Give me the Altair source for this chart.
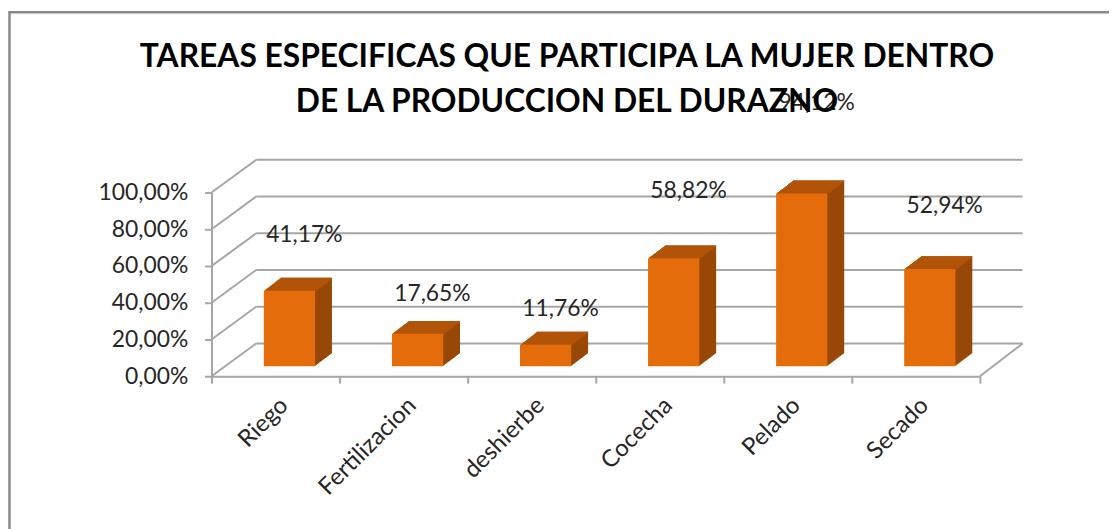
import altair as alt
import pandas as pd

# ---------------- data ----------------
categories = ["Riego", "Fertilizacion", "deshierbe", "Cocecha", "Pelado", "Secado"]
values = [41.17, 17.65, 11.76, 58.82, 94.12, 52.94]
y_ticks = [0, 20, 40, 60, 80, 100]
title_lines = ["TAREAS ESPECIFICAS QUE PARTICIPA LA MUJER DENTRO",
               "DE LA PRODUCCION DEL DURAZNO"]

# ---------------- style ----------------
W, H = 774, 185
DX, DY = 45, 33            # depth of the back wall (px)
BAR_DX, BAR_DY = 14, 10    # front face of the bars inside the depth
BAR_DEPTH = 17             # bar depth steps (px)
SLOPE = 0.76
FRONT = "#E46C0A"
TOP = "#B25408"
SIDE = "#984807"
GRID = "#A6A6A6"
TXT = "#262626"
FONT = "Lato"

bars = pd.DataFrame({"cat": categories, "val": values})
bars["lab"] = [f"{v:.2f}".replace(".", ",") + "%" for v in values]
ticks = pd.DataFrame({"val": y_ticks})

yscale = alt.Scale(domain=[0, 100], nice=False, zero=True)
xscale = alt.Scale(paddingInner=0, paddingOuter=0)

x_axis_def = alt.Axis(
    labelAngle=-45, labelAlign="right", labelBaseline="top",
    labelFont=FONT, labelFontSize=24, labelColor=TXT, labelPadding=10,
    domainColor=GRID, domainWidth=2, tickColor=GRID, tickWidth=2,
    tickSize=7, tickBand="extent", labelOverlap=False, grid=False,
)
y_axis_def = alt.Axis(
    values=y_ticks, grid=False,
    labelExpr="replace(format(datum.value, '.2f'), '.', ',') + '%'",
    labelFont=FONT, labelFontSize=23, labelColor=TXT, labelPadding=17,
    domainColor=GRID, domainWidth=2, tickColor=GRID, tickWidth=2,
    tickSize=7,
)


def X():
    return alt.X("cat:N", sort=categories, scale=xscale, title=None, axis=x_axis_def)


def Y(field="val"):
    return alt.Y(f"{field}:Q", scale=yscale, title=None, axis=y_axis_def)


layers = []

# outer frame of the chart
layers.append(
    alt.Chart(ticks).transform_filter("datum.val == 0").mark_rect(
        fill="transparent", stroke="#8A8A8A", strokeWidth=2.5).encode(
        x=alt.value(-203.5), x2=alt.value(W + 200), y=alt.value(-181.5), y2=alt.value(H + 200)
    )
)

# back wall gridlines
layers.append(
    alt.Chart(ticks).mark_rule(color=GRID, strokeWidth=2, yOffset=-DY).encode(
        y=Y(), x=alt.value(DX), x2=alt.value(W + DX - 2)
    )
)
# left side wall diagonals
layers.append(
    alt.Chart(ticks).mark_rule(color=GRID, strokeWidth=2, y2Offset=-DY).encode(
        y=Y(), y2="val:Q", x=alt.value(0), x2=alt.value(DX)
    )
)
# right floor diagonal
layers.append(
    alt.Chart(ticks).transform_filter("datum.val == 0").mark_rule(
        color=GRID, strokeWidth=2, y2Offset=-DY).encode(
        y=Y(), y2="val:Q", x=alt.value(W), x2=alt.value(W + DX - 2)
    )
)

bw = alt.RelativeBandSize(0.4)
# side silhouette (extruded)
for k in range(BAR_DEPTH, 0, -1):
    oy = -(BAR_DY + k * SLOPE)
    layers.append(
        alt.Chart(bars).mark_bar(color=SIDE, width=bw, xOffset=BAR_DX + k,
                                 yOffset=oy, y2Offset=oy).encode(x=X(), y=Y())
    )
# top face
for k in range(BAR_DEPTH, 0, -1):
    oy = -(BAR_DY + k * SLOPE)
    layers.append(
        alt.Chart(bars).transform_calculate(v2="datum.val - 0.7").mark_bar(
            color=TOP, width=bw, xOffset=BAR_DX + k, yOffset=oy, y2Offset=oy).encode(
            x=X(), y=Y(), y2="v2:Q"
        )
    )
# front face
layers.append(
    alt.Chart(bars).mark_bar(color=FRONT, width=bw, xOffset=BAR_DX,
                             yOffset=-BAR_DY, y2Offset=-BAR_DY).encode(x=X(), y=Y())
)
# data labels
layers.append(
    alt.Chart(bars).transform_calculate(lp="20.8 + 1.357 * datum.val").mark_text(
        font=FONT, fontSize=23, color=TXT, xOffset=29, baseline="middle", align="center"
    ).encode(x=X(), y=Y("lp"), text="lab:N")
)

chart = alt.layer(*layers).properties(
    width=W, height=H,
    background="white",
    title=alt.TitleParams(text=title_lines, font=FONT, fontSize=32, fontWeight="bold",
                          color="black", anchor="middle", dx=-29, dy=109,
                          lineHeight=46, offset=0),
    autosize=alt.AutoSizeParams(type="none"),
    padding={"left": 205, "top": 184, "right": 130, "bottom": 152},
).configure_view(stroke="transparent")

chart.save("out.html", embed_options={"renderer": "svg", "actions": False})
